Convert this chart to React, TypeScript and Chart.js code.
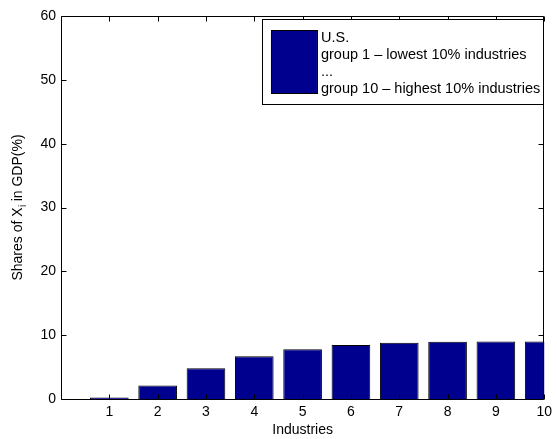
import React, { useEffect, useRef } from "react";
import { Chart, registerables } from "chart.js";

Chart.register(...registerables);

// ---- data ----
const industries = [1, 2, 3, 4, 5, 6, 7, 8, 9, 10];
const shares = [0.25, 2.1, 4.8, 6.7, 7.8, 8.45, 8.8, 8.95, 9.0, 9.02];
const yMin = 0;
const yMax = 60;
const yStep = 10;
const xMin = 0;
const xMax = 10;
const legendLines = [
  "U.S.",
  "group 1 \u2013 lowest 10% industries",
  "...",
  "group 10 \u2013 highest 10% industries",
];
const xTitle = "Industries";
const yTitleParts = ["Shares of X", "i", " in GDP(%)"];

const FONT = "'Liberation Sans', Arial, Helvetica, sans-serif";
const BAR_COLOR = "#00008F";

const px = (v: number) => Math.round(v) + 0.5;

const framePlugin = {
  id: "frameTicks",
  afterDatasetsDraw(chart: any) {
    const { ctx, chartArea } = chart;
    const xs = chart.scales.x;
    const ys = chart.scales.y;
    const L = px(chartArea.left);
    const R = px(chartArea.right) - 1;
    const T = px(chartArea.top);
    const B = px(chartArea.bottom);
    ctx.save();
    ctx.strokeStyle = "#000";
    ctx.lineWidth = 1;
    ctx.beginPath();
    ctx.rect(L, T, R - L, B - T);
    const tl = 5;
    xs.ticks.forEach((t: any) => {
      if (t.value <= xMin) return;
      const x = px(xs.getPixelForValue(t.value));
      ctx.moveTo(x, B);
      ctx.lineTo(x, B - tl);
      ctx.moveTo(x, T);
      ctx.lineTo(x, T + tl);
    });
    ys.ticks.forEach((t: any) => {
      const y = px(ys.getPixelForValue(t.value));
      ctx.moveTo(L, y);
      ctx.lineTo(L + tl, y);
      ctx.moveTo(R, y);
      ctx.lineTo(R - tl, y);
    });
    ctx.stroke();
    ctx.restore();
  },
  afterDraw(chart: any) {
    const { ctx, chartArea } = chart;
    ctx.save();
    // x title
    ctx.fillStyle = "#000";
    ctx.font = `14px ${FONT}`;
    ctx.textAlign = "center";
    ctx.textBaseline = "middle";
    ctx.fillText(xTitle, (chartArea.left + chartArea.right) / 2, chartArea.bottom + 31);

    // y title with subscript
    const cy = (chartArea.top + chartArea.bottom) / 2;
    ctx.translate(18, cy);
    ctx.rotate(-Math.PI / 2);
    ctx.textAlign = "left";
    const mainFont = `14px ${FONT}`;
    const subFont = `10px ${FONT}`;
    ctx.font = mainFont;
    const w1 = ctx.measureText(yTitleParts[0]).width;
    const w3 = ctx.measureText(yTitleParts[2]).width;
    ctx.font = subFont;
    const w2 = ctx.measureText(yTitleParts[1]).width;
    let x0 = -(w1 + w2 + w3) / 2;
    ctx.font = mainFont;
    ctx.fillText(yTitleParts[0], x0, 0);
    x0 += w1;
    ctx.font = subFont;
    ctx.fillText(yTitleParts[1], x0 + 0.5, 5);
    x0 += w2;
    ctx.font = mainFont;
    ctx.fillText(yTitleParts[2], x0, 0);
    ctx.restore();

    // legend
    const ds = chart.data.datasets[0];
    const lines: string[] = String(ds.label).split("\n");
    ctx.save();
    ctx.font = `14.5px ${FONT}`;
    let maxW = 0;
    lines.forEach((l) => (maxW = Math.max(maxW, ctx.measureText(l).width)));
    const right = chartArea.right - 1;
    const top = chartArea.top + 3;
    const h = 85;
    const textX = right - 3 - maxW;
    const left = textX - 59;
    ctx.fillStyle = "#fff";
    ctx.fillRect(left, top, right - left, h);
    ctx.strokeStyle = "#000";
    ctx.lineWidth = 1;
    ctx.strokeRect(px(left), px(top), Math.round(right - left), Math.round(h));
    // patch
    const pxl = left + 9;
    const pw = 46;
    const pt = top + 11;
    const ph = h - 22;
    ctx.fillStyle = ds.backgroundColor;
    ctx.fillRect(pxl, pt, pw, ph);
    ctx.strokeStyle = "#000";
    ctx.strokeRect(px(pxl), px(pt), pw, ph);
    // text
    ctx.fillStyle = "#000";
    ctx.textAlign = "left";
    ctx.textBaseline = "middle";
    const mid = top + h / 2 + 2;
    const pitch = 17;
    lines.forEach((l, i) => {
      ctx.fillText(l, textX, mid + (i - (lines.length - 1) / 2) * pitch);
    });
    ctx.restore();
  },
};

export default function App() {
  const ref = useRef<HTMLCanvasElement>(null);
  useEffect(() => {
    if (!ref.current) return;
    const chart = new Chart(ref.current, {
      type: "bar",
      data: {
        datasets: [
          {
            label: legendLines.join("\n"),
            data: industries.map((x, i) => ({ x, y: shares[i] })),
            backgroundColor: BAR_COLOR,
            borderColor: "#000",
            borderWidth: 1,
            barPercentage: 0.8,
            categoryPercentage: 1.0,
          },
        ],
      },
      options: {
        animation: false,
        responsive: false,
        devicePixelRatio: 1,
        layout: { padding: { top: 16, right: 11, left: 0, bottom: 0 } },
        plugins: { legend: { display: false }, tooltip: { enabled: false } },
        scales: {
          x: {
            type: "linear",
            min: xMin,
            max: xMax,
            offset: false,
            grid: { display: false, drawTicks: false },
            border: { display: false },
            ticks: {
              stepSize: 1,
              padding: 5,
              color: "#000",
              font: { family: FONT, size: 14 },
              maxRotation: 0,
              autoSkip: false,
              callback: (v: any) => (v === xMin ? "" : String(v)),
            },
            afterFit: (s: any) => {
              s.height = 40;
            },
          },
          y: {
            min: yMin,
            max: yMax,
            grid: { display: false, drawTicks: false },
            border: { display: false },
            ticks: {
              stepSize: yStep,
              padding: 5,
              color: "#000",
              font: { family: FONT, size: 14 },
            },
            afterFit: (s: any) => {
              s.width = 61;
            },
          },
        },
      },
      plugins: [framePlugin],
    } as any);
    return () => chart.destroy();
  }, []);
  return (
    <div style={{ position: "absolute", left: 0, top: 0, width: 557, height: 439, background: "#fff" }}>
      <canvas ref={ref} width={557} height={439} style={{ width: 557, height: 439, display: "block" }} />
    </div>
  );
}
